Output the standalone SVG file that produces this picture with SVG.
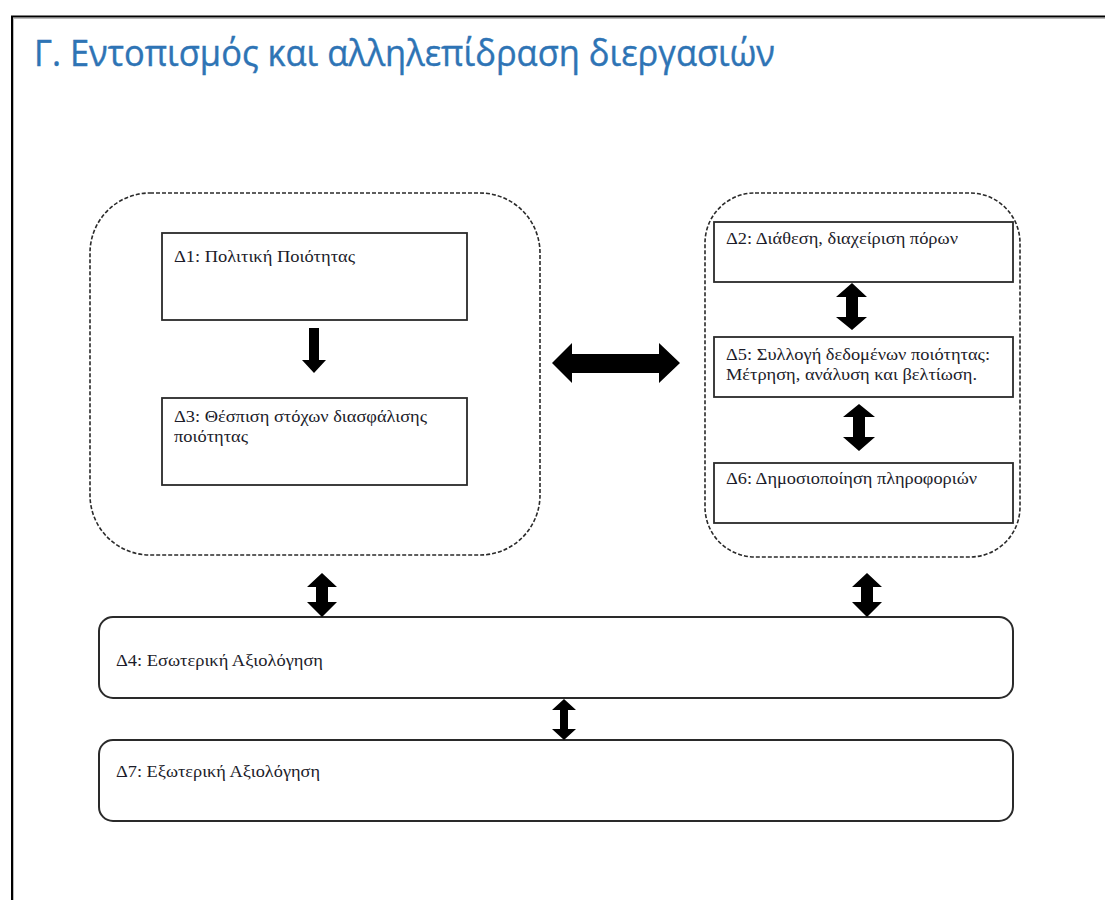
<svg xmlns="http://www.w3.org/2000/svg" width="1105" height="900" viewBox="0 0 1105 900">
<style>
.frame{fill:none;stroke:#000;stroke-width:2}
.shadow{fill:none;stroke:#bbb;stroke-width:1}
.title{font-family:"Open Sans","Liberation Sans",sans-serif;font-size:37px;fill:#2E74B5;stroke:#2E74B5;stroke-width:0.4}
.group{fill:none;stroke:#2a2a2a;stroke-width:1.6;stroke-dasharray:4 2}
.box{fill:#fff;stroke:#2a2a2a;stroke-width:1.8}
.rbox{fill:#fff;stroke:#2a2a2a;stroke-width:2}
.lbl{font-family:"Liberation Serif","Times New Roman",serif;font-size:16px;fill:#1c1c2a}
.arr{fill:#000;stroke:none}
</style>
<rect width="1105" height="900" fill="#fff"/>
<g id="frame">
<path class="shadow" d="M13 18.5H1105M13.5 18V900"/>
<path class="frame" d="M12 900V16.5H1105"/>
</g>
<text class="title" x="34" y="66" textLength="741" lengthAdjust="spacingAndGlyphs">Γ. Εντοπισμός και αλληλεπίδραση διεργασιών</text>
<g id="group-left"><rect class="group" x="90" y="193" width="450" height="362" rx="60" ry="60"/></g>
<g id="group-right"><rect class="group" x="705" y="193" width="315" height="364" rx="50" ry="50"/></g>
<g id="D1"><rect class="box" x="162" y="233" width="305" height="87"/>
<text class="lbl" x="174" y="262" textLength="181" lengthAdjust="spacingAndGlyphs">Δ1: Πολιτική Ποιότητας</text></g>
<g id="D3"><rect class="box" x="162" y="398" width="305" height="87"/>
<text class="lbl" x="174" y="422" textLength="253" lengthAdjust="spacingAndGlyphs">Δ3: Θέσπιση στόχων διασφάλισης</text>
<text class="lbl" x="174" y="442" textLength="74" lengthAdjust="spacingAndGlyphs">ποιότητας</text></g>
<g id="D2"><rect class="box" x="714" y="222" width="299" height="60"/>
<text class="lbl" x="726" y="244" textLength="232" lengthAdjust="spacingAndGlyphs">Δ2: Διάθεση, διαχείριση πόρων</text></g>
<g id="D5"><rect class="box" x="714" y="337" width="299" height="60"/>
<text class="lbl" x="726" y="360" textLength="264" lengthAdjust="spacingAndGlyphs">Δ5: Συλλογή δεδομένων ποιότητας:</text>
<text class="lbl" x="726" y="380" textLength="251" lengthAdjust="spacingAndGlyphs">Μέτρηση, ανάλυση και βελτίωση.</text></g>
<g id="D6"><rect class="box" x="714" y="463" width="299" height="60"/>
<text class="lbl" x="726" y="484" textLength="251" lengthAdjust="spacingAndGlyphs">Δ6: Δημοσιοποίηση πληροφοριών</text></g>
<g id="D4"><rect class="rbox" x="99" y="617" width="914" height="81" rx="14" ry="14"/>
<text class="lbl" x="116" y="666" textLength="207" lengthAdjust="spacingAndGlyphs">Δ4: Εσωτερική Αξιολόγηση</text></g>
<g id="D7"><rect class="rbox" x="99" y="740" width="914" height="81" rx="14" ry="14"/>
<text class="lbl" x="116" y="777" textLength="204" lengthAdjust="spacingAndGlyphs">Δ7: Εξωτερική Αξιολόγηση</text></g>
<g id="connectors">
<polygon class="arr" points="309,328 319,328 319,360 326,360 314,373 302,360 309,360"/>
<polygon class="arr" points="552,363 572,343 572,354 659,354 659,343 680,363 659,383 659,373 572,373 572,383"/>
<polygon class="arr" points="852,283 867,297 858,297 858,317 867,317 852,330 836,317 846,317 846,297 836,297"/>
<polygon class="arr" points="859,404 875,417 865,417 865,437 875,437 859,451 843,437 853,437 853,417 843,417"/>
<polygon class="arr" points="322,573 337,587 328,587 328,602 337,602 322,617 307,602 316,602 316,587 307,587"/>
<polygon class="arr" points="867,573 882,587 873,587 873,602 882,602 867,617 852,602 861,602 861,587 852,587"/>
<polygon class="arr" points="564,699 576,710 568,710 568,729 576,729 564,740 552,729 560,729 560,710 552,710"/>
</g>
</svg>
